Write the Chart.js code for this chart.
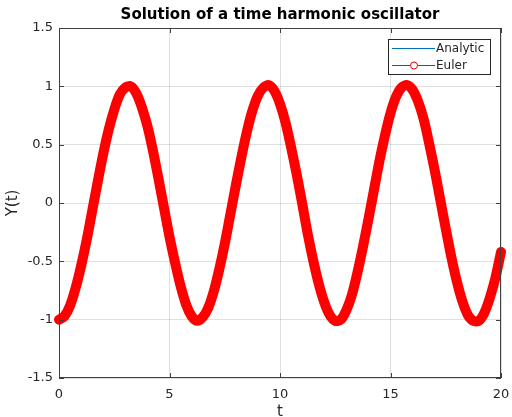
<!DOCTYPE html>
<html>
<head>
<meta charset="utf-8">
<script src="https://cdn.jsdelivr.net/npm/chart.js@4"></script>
<style>
  html, body { margin: 0; padding: 0; background: #fff; }
  #wrap { width: 512px; height: 417px; }
</style>
</head>
<body>
<div id="wrap"><canvas id="chart"></canvas></div>
<script>
// time samples (t) and values
const tValues = [
  0, 0.25, 0.5, 0.75, 1, 1.25, 1.5, 1.75, 2, 2.25, 2.5, 2.75, 3, 3.25, 3.5, 3.75,
  4, 4.25, 4.5, 4.75, 5, 5.25, 5.5, 5.75, 6, 6.25, 6.5, 6.75, 7, 7.25, 7.5, 7.75,
  8, 8.25, 8.5, 8.75, 9, 9.25, 9.5, 9.75, 10, 10.25, 10.5, 10.75, 11, 11.25, 11.5, 11.75,
  12, 12.25, 12.5, 12.75, 13, 13.25, 13.5, 13.75, 14, 14.25, 14.5, 14.75, 15, 15.25, 15.5, 15.75,
  16, 16.25, 16.5, 16.75, 17, 17.25, 17.5, 17.75, 18, 18.25, 18.5, 18.75, 19, 19.25, 19.5, 19.75, 20
];

const analyticValues = [
  -1.00, -0.97, -0.88, -0.73, -0.54, -0.32, -0.07, 0.18, 0.42, 0.63, 0.80, 0.92, 0.99, 0.99, 0.94, 0.82,
  0.65, 0.45, 0.21, -0.04, -0.28, -0.51, -0.71, -0.86, -0.96, -1.00, -0.98, -0.89, -0.75, -0.57, -0.35, -0.10,
  0.15, 0.39, 0.60, 0.78, 0.91, 0.99, 1.00, 0.95, 0.84, 0.68, 0.48, 0.24, 0.00, -0.25, -0.48, -0.69,
  -0.84, -0.95, -1.00, -0.98, -0.91, -0.78, -0.59, -0.38, -0.14, 0.11, 0.36, 0.58, 0.76, 0.90, 0.98, 1.00,
  0.96, 0.86, 0.71, 0.51, 0.28, 0.03, -0.22, -0.45, -0.66, -0.83, -0.94, -1.00, -0.99, -0.92, -0.80, -0.62, -0.41
];

const eulerValues = [
  -1.00, -0.97, -0.88, -0.73, -0.54, -0.32, -0.07, 0.18, 0.42, 0.63, 0.80, 0.93, 0.99, 1.00, 0.94, 0.82,
  0.66, 0.45, 0.21, -0.04, -0.29, -0.51, -0.71, -0.87, -0.97, -1.01, -0.98, -0.90, -0.76, -0.57, -0.35, -0.10,
  0.15, 0.39, 0.61, 0.79, 0.92, 0.99, 1.01, 0.96, 0.85, 0.69, 0.48, 0.25, 0.00, -0.26, -0.49, -0.69,
  -0.85, -0.96, -1.01, -1.00, -0.92, -0.79, -0.60, -0.38, -0.14, 0.11, 0.36, 0.58, 0.77, 0.91, 0.99, 1.01,
  0.97, 0.87, 0.72, 0.51, 0.28, 0.03, -0.22, -0.46, -0.67, -0.84, -0.96, -1.01, -1.01, -0.94, -0.81, -0.64, -0.42
];

const xTicks = [0, 5, 10, 15, 20];
const yTicks = [-1.5, -1, -0.5, 0, 0.5, 1, 1.5];

const TITLE = 'Solution of a time harmonic oscillator';
const FONT = 'DejaVu Sans';
const TEXT = '#262626';
const AXIS = '#404040';
const GRID = 'rgba(0, 0, 0, 0.12)';

// title, box around the axes, inward ticks and the legend, MATLAB style
const boxPlugin = {
  id: 'boxPlugin',
  afterDraw(chart) {
    const { ctx, chartArea: a, scales } = chart;
    ctx.save();

    ctx.fillStyle = '#000';
    ctx.font = `bold 15px "${FONT}"`;
    ctx.textAlign = 'center';
    ctx.textBaseline = 'middle';
    ctx.fillText(TITLE, (a.left + a.right) / 2, 15);

    ctx.strokeStyle = AXIS;
    ctx.lineWidth = 1;
    ctx.strokeRect(Math.round(a.left) + 0.5, Math.round(a.top) + 0.5,
      Math.round(a.right - a.left) - 1, Math.round(a.bottom - a.top) - 1);

    const tl = 5;
    ctx.beginPath();
    xTicks.forEach(v => {
      const px = Math.round(scales.x.getPixelForValue(v)) + 0.5;
      ctx.moveTo(px, a.bottom); ctx.lineTo(px, a.bottom - tl);
      ctx.moveTo(px, a.top); ctx.lineTo(px, a.top + tl);
    });
    yTicks.forEach(v => {
      const py = Math.round(scales.y.getPixelForValue(v)) + 0.5;
      ctx.moveTo(a.left, py); ctx.lineTo(a.left + tl, py);
      ctx.moveTo(a.right, py); ctx.lineTo(a.right - tl, py);
    });
    ctx.stroke();

    // legend
    const lx = 388.5, ly = 39.5, lw = 102, lh = 35;
    ctx.fillStyle = '#fff';
    ctx.fillRect(lx, ly, lw, lh);
    ctx.strokeStyle = '#262626';
    ctx.strokeRect(lx, ly, lw, lh);

    ctx.font = `12px "${FONT}"`;
    ctx.textAlign = 'left';
    ctx.textBaseline = 'middle';

    ctx.lineWidth = 1;
    ctx.strokeStyle = '#0072BD';
    ctx.beginPath(); ctx.moveTo(392, 48.5); ctx.lineTo(435, 48.5); ctx.stroke();
    ctx.fillStyle = TEXT;
    ctx.fillText('Analytic', 436, 49);

    ctx.strokeStyle = '#ff0000';
    ctx.beginPath(); ctx.moveTo(392, 65.5); ctx.lineTo(435, 65.5); ctx.stroke();
    ctx.beginPath(); ctx.arc(414, 65.5, 3.5, 0, Math.PI * 2);
    ctx.fillStyle = '#fff'; ctx.fill(); ctx.stroke();
    ctx.fillStyle = TEXT;
    ctx.fillText('Euler', 436, 66);
    ctx.restore();
  }
};

const ctx = document.getElementById('chart').getContext('2d');

new Chart(ctx, {
  type: 'line',
  data: {
    datasets: [
      {
        label: 'Euler',
        data: tValues.map((t, i) => ({ x: t, y: eulerValues[i] })),
        borderColor: '#ff0000',
        backgroundColor: '#ff0000',
        borderWidth: 10,
        borderCapStyle: 'round',
        borderJoinStyle: 'round',
        pointRadius: 0,
        tension: 0.3,
        fill: false,
        clip: 6,
        order: 0
      },
      {
        label: 'Analytic',
        data: tValues.map((t, i) => ({ x: t, y: analyticValues[i] })),
        borderColor: '#0072BD',
        borderWidth: 1,
        pointRadius: 0,
        tension: 0.3,
        fill: false,
        order: 1
      }
    ]
  },
  options: {
    responsive: true,
    maintainAspectRatio: false,
    animation: false,
    layout: { padding: { left: 0, right: 11, top: 28, bottom: 0 } },
    plugins: {
      legend: { display: false },
      tooltip: { enabled: false },
      title: { display: false }
    },
    scales: {
      x: {
        type: 'linear',
        min: 0,
        max: 20,
        afterBuildTicks: s => { s.ticks = xTicks.map(v => ({ value: v })); },
        afterFit: s => { s.height = 39; s.paddingLeft = 0; s.paddingRight = 0; },
        grid: { color: GRID, drawTicks: false },
        border: { display: false },
        ticks: {
          color: TEXT,
          padding: 9,
          font: { family: FONT, size: 13 },
          callback: v => String(v)
        },
        title: {
          display: true,
          text: 't',
          color: TEXT,
          font: { family: FONT, size: 15, lineHeight: 1 },
          padding: { top: 0, bottom: -3 }
        }
      },
      y: {
        min: -1.5,
        max: 1.5,
        afterBuildTicks: s => { s.ticks = yTicks.map(v => ({ value: v })); },
        afterFit: s => { s.width = 59; s.paddingTop = 0; s.paddingBottom = 0; },
        grid: { color: GRID, drawTicks: false },
        border: { display: false },
        ticks: {
          color: TEXT,
          padding: 6,
          font: { family: FONT, size: 13 },
          callback: v => String(v)
        },
        title: {
          display: true,
          text: 'Y(t)',
          color: TEXT,
          font: { family: FONT, size: 15 },
          padding: { top: 4, bottom: 0 }
        }
      }
    }
  },
  plugins: [boxPlugin]
});
</script>
</body>
</html>
